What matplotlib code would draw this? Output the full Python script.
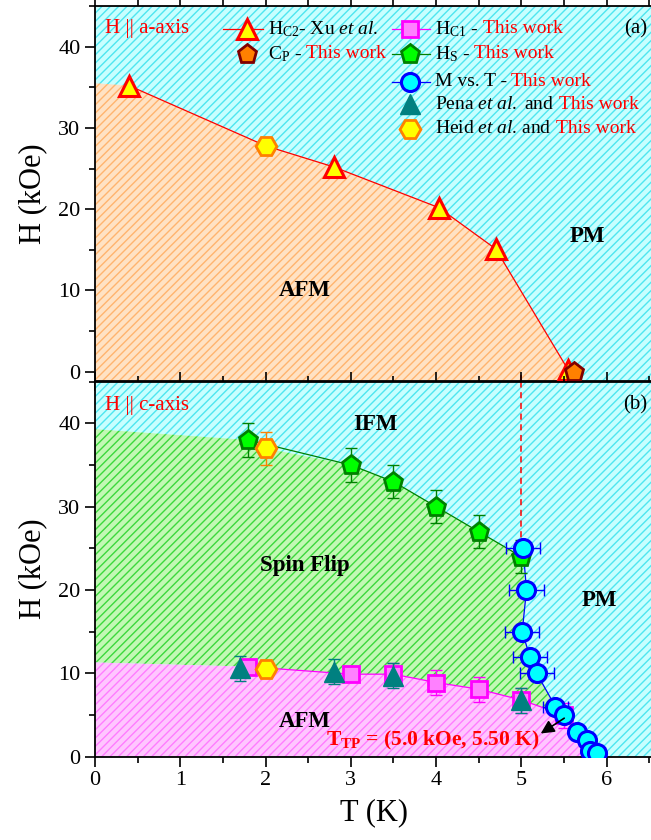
import matplotlib
matplotlib.use('Agg')
import matplotlib.pyplot as plt
from matplotlib.ticker import MultipleLocator

plt.rcParams['font.family'] = ['Liberation Serif', 'DejaVu Serif']
plt.rcParams['mathtext.fontset'] = 'custom'
plt.rcParams['mathtext.rm'] = 'Liberation Serif'
plt.rcParams['mathtext.it'] = 'Liberation Serif:italic'
plt.rcParams['mathtext.bf'] = 'Liberation Serif:bold'
plt.rcParams['hatch.linewidth'] = 1.0

# ---- panel (a) data, H || a-axis ----
hc2_T = [0.4, 2.8, 4.03, 4.7, 5.55]
hc2_H = [35.2, 25.2, 20.2, 15.1, 0.2]
heid_a_T = [2.0]
heid_a_H = [27.8]
cp_T = [5.62]
cp_H = [0.0]

# ---- panel (b) data, H || c-axis ----
hs_T = [1.8, 3.0, 3.5, 4.0, 4.5, 5.0]
hs_H = [38.0, 35.0, 33.0, 30.0, 27.0, 24.0]
hs_err = [2, 2, 2, 2, 2, 2]
heid_c_T = [2.0, 2.0]
heid_c_H = [37.0, 10.5]
heid_c_err = [2, 0]
hc1_T = [1.8, 3.0, 3.5, 4.0, 4.5, 5.0, 5.5]
hc1_H = [10.8, 9.9, 9.9, 8.9, 8.1, 6.8, 5.0]
hc1_err = [0, 0, 1.3, 1.5, 1.5, 1.5, 1.5]
pena_T = [1.7, 2.8, 3.5, 5.0]
pena_H = [10.6, 10.2, 9.7, 6.8]
pena_err = [1.5, 1.5, 1.5, 1.5]
mt_T = [5.02, 5.06, 5.01, 5.1, 5.18, 5.4, 5.5, 5.65, 5.77, 5.8, 5.89]
mt_H = [25, 20, 15, 12, 10, 6, 5, 3, 2, 0.7, 0.5]
mt_err = [0.2, 0.2, 0.2, 0.2, 0.2, 0.15, 0, 0, 0, 0, 0]

# phase boundaries at T = 0
afm_a_left = 35.5
afm_c_left = 11.3
sf_left = 39.3

fig = plt.figure(figsize=(6.51, 8.40), dpi=100)
ax1 = fig.add_axes([0.1459, 0.5464, 0.858, 0.4464])
ax2 = fig.add_axes([0.1459, 0.0992, 0.858, 0.4464])

xmax = 6.55
ax1.set_xlim(0, xmax)
ax1.set_ylim(-1.15, 45)
ax2.set_xlim(0, xmax)
ax2.set_ylim(0, 45)

cyan_bg, cyan_ln = '#c8ffff', '#4ee6f0'
orange_bg, orange_ln = '#ffe2c4', '#ffb46e'
green_bg, green_ln = '#c2f8b4', '#3cd83c'
pink_bg, pink_ln = '#ffc6ff', '#ff7cff'
hatch = '////'

for ax in (ax1, ax2):
    lo, hi = ax.get_ylim()
    ax.fill([0, xmax, xmax, 0], [lo, lo, hi, hi], facecolor=cyan_bg,
            edgecolor=cyan_ln, hatch=hatch, lw=0, zorder=0)

# panel (a) AFM region
slope = (hc2_H[-1] - hc2_H[-2]) / (hc2_T[-1] - hc2_T[-2])
t_end = hc2_T[-1] + (-1.15 - hc2_H[-1]) / slope
bx = [0, hc2_T[0], heid_a_T[0]] + hc2_T[1:] + [t_end, 0]
by = [afm_a_left, hc2_H[0], heid_a_H[0]] + hc2_H[1:] + [-1.15, -1.15]
ax1.fill(bx, by, facecolor=orange_bg, edgecolor=orange_ln, hatch=hatch, lw=0, zorder=1)

# panel (b) spin-flip region
top_T = [0] + hs_T[:1] + [heid_c_T[0]] + hs_T[1:]
top_H = [sf_left] + hs_H[:1] + [heid_c_H[0]] + hs_H[1:]
right_T = mt_T[1:7]
right_H = mt_H[1:7]
low_T = hc1_T[:-1][::-1] + [0]
low_H = hc1_H[:-1][::-1] + [afm_c_left]
ax2.fill(top_T + right_T + low_T, top_H + right_H + low_H, facecolor=green_bg,
         edgecolor=green_ln, hatch=hatch, lw=0, zorder=1)

# panel (b) AFM region
pk_T = [0] + hc1_T + mt_T[7:] + [mt_T[-1] + 0.03, 0]
pk_H = [afm_c_left] + hc1_H + mt_H[7:] + [0, 0]
ax2.fill(pk_T, pk_H, facecolor=pink_bg, edgecolor=pink_ln, hatch=hatch, lw=0, zorder=1)

tri = dict(marker='^', ms=14, mfc='yellow', mec='red', mew=2.2)
cpm = dict(marker='p', ms=14, mfc='#ff8000', mec='#800000', mew=2)
hex_ = dict(marker='H', ms=15, mfc='yellow', mec='#ff8000', mew=2)
pen = dict(marker='p', ms=14, mfc='#00ff00', mec='#008000', mew=2)
sq = dict(marker='s', ms=12, mfc='#ff80ff', mec='#ff00ff', mew=2)
pena = dict(marker='^', ms=14, mfc='#008080', mec='#008080', mew=1)
circ = dict(marker='o', ms=13, mfc='#00ffff', mec='#0000ff', mew=2.2)

# ---- panel (a) marks ----
ax1.plot(hc2_T[:1] + heid_a_T + hc2_T[1:], hc2_H[:1] + heid_a_H + hc2_H[1:], color='red', lw=0.9, zorder=3)
ax1.plot(hc2_T, hc2_H, ls='none', zorder=5, **tri)
ax1.plot(heid_a_T, heid_a_H, ls='none', zorder=5, **hex_)
ax1.plot(cp_T, cp_H, ls='none', zorder=6, **cpm)
ax1.plot([5.0, 5.0], [-1.15, -0.2], color='#ff0000', ls=(0, (4, 3)), lw=1.1, zorder=2)

# ---- panel (b) marks ----
ax2.plot([5.0, 5.0], [25, 45], color='#ff0000', ls=(0, (4, 3)), lw=1.1, zorder=2)
ax2.plot(hs_T, hs_H, color='#008000', lw=0.9, zorder=3)
ax2.plot(hc1_T, hc1_H, color='#ff00ff', lw=0.9, zorder=3)
ax2.plot(mt_T, mt_H, color='#0000ff', lw=0.9, zorder=3)

ax2.errorbar(hs_T, hs_H, yerr=hs_err, fmt='none', ecolor='#008000', elinewidth=1, capsize=4, zorder=4)
ax2.plot(hs_T, hs_H, ls='none', zorder=5, **pen)

ax2.errorbar(hc1_T, hc1_H, yerr=hc1_err, fmt='none', ecolor='#ff00ff', elinewidth=1, capsize=4, zorder=4)
ax2.plot(hc1_T, hc1_H, ls='none', zorder=5, **sq)

ax2.errorbar(pena_T, pena_H, yerr=pena_err, fmt='none', ecolor='#008080', elinewidth=1, capsize=4, zorder=6)
ax2.plot(pena_T, pena_H, ls='none', zorder=6, **pena)

ax2.errorbar(heid_c_T, heid_c_H, yerr=heid_c_err, fmt='none', ecolor='#ff8000', elinewidth=1, capsize=4, zorder=6)
ax2.plot(heid_c_T, heid_c_H, ls='none', zorder=6, **hex_)

ax2.errorbar(mt_T, mt_H, xerr=mt_err, fmt='none', ecolor='#0000ff', elinewidth=1, capsize=4, zorder=7)
ax2.plot(mt_T, mt_H, ls='none', zorder=8, **circ)

# ---- text ----
ax1.text(0.12, 42.2, 'H || a-axis', color='red', fontsize=15, va='center')
ax1.text(6.34, 42.2, '(a)', fontsize=15, ha='center', va='center')
ax1.text(2.46, 10.0, 'AFM', fontsize=16.5, fontweight='bold', ha='center', va='center')
ax1.text(5.78, 16.6, 'PM', fontsize=16.5, fontweight='bold', ha='center', va='center')

ax2.text(0.12, 42.2, 'H || c-axis', color='red', fontsize=15, va='center')
ax2.text(6.34, 42.2, '(b)', fontsize=15, ha='center', va='center')
ax2.text(3.29, 39.9, 'IFM', fontsize=16.5, fontweight='bold', ha='center', va='center')
ax2.text(2.46, 23.0, 'Spin Flip', fontsize=16.5, fontweight='bold', ha='center', va='center')
ax2.text(5.92, 18.8, 'PM', fontsize=16.5, fontweight='bold', ha='center', va='center')
ax2.text(2.46, 4.2, 'AFM', fontsize=16.5, fontweight='bold', ha='center', va='center')
ax2.text(2.71, 1.9, r'$\mathbf{T}_{\mathbf{TP}}$ = (5.0 kOe, 5.50 K)', color='red',
         fontsize=15.5, fontweight='bold', va='center', zorder=9)
ax2.annotate('', xy=(5.2, 2.6), xytext=(5.53, 4.8),
             arrowprops=dict(arrowstyle='-|>', color='black', lw=1.2, mutation_scale=20), zorder=9)

# ---- legend drawn by hand ----
rend = fig.canvas.get_renderer()
def entry(ax, x, y, black, red=None):
    t = ax.text(x, y, black, fontsize=14, va='center')
    if red:
        bb = t.get_window_extent(renderer=rend)
        xd = ax.transData.inverted().transform((bb.x1 + 4, bb.y0))[0]
        ax.text(xd, y, red, fontsize=14, va='center', color='red')

c1_line, c1_mark, c1_text = [1.50, 1.97], 1.78, 2.03
c2_line, c2_mark, c2_text = [3.48, 3.93], 3.69, 3.99
rows = [42.2, 39.1, 35.7, 32.9, 29.9]

ax1.plot(c1_line, [rows[0]] * 2, color='red', lw=0.9, zorder=5)
ax1.plot([c1_mark], [rows[0]], zorder=6, **tri)
entry(ax1, c1_text, rows[0], r'H$_{\mathrm{C2}}$- Xu $\mathit{et\ al.}$')
ax1.plot([c1_mark], [rows[1]], zorder=6, **cpm)
entry(ax1, c1_text, rows[1], r'C$_{\mathrm{P}}$ -', 'This work')

ax1.plot(c2_line, [rows[0]] * 2, color='#ff00ff', lw=0.9, zorder=5)
ax1.plot([c2_mark], [rows[0]], zorder=6, **sq)
entry(ax1, c2_text, rows[0], r'H$_{\mathrm{C1}}$ -', 'This work')
ax1.plot(c2_line, [rows[1]] * 2, color='#008000', lw=0.9, zorder=5)
ax1.plot([c2_mark], [rows[1]], zorder=6, **pen)
entry(ax1, c2_text, rows[1], r'H$_{\mathrm{S}}$ -', 'This work')
ax1.plot(c2_line, [rows[2]] * 2, color='#0000ff', lw=0.9, zorder=5)
ax1.plot([c2_mark], [rows[2]], zorder=6, **circ)
entry(ax1, c2_text, rows[2], 'M vs. T -', 'This work')
ax1.plot([c2_mark], [rows[3]], zorder=6, **pena)
entry(ax1, c2_text, rows[3], r'Pena $\mathit{et\ al.}$ and', 'This work')
ax1.plot([c2_mark], [rows[4]], zorder=6, **hex_)
entry(ax1, c2_text, rows[4], r'Heid $\mathit{et\ al}$. and', 'This work')

# ---- axes styling ----
for ax in (ax1, ax2):
    ax.xaxis.set_major_locator(MultipleLocator(1))
    ax.xaxis.set_minor_locator(MultipleLocator(0.5))
    ax.yaxis.set_major_locator(MultipleLocator(10))
    ax.yaxis.set_minor_locator(MultipleLocator(5))
    ax.tick_params(which='both', direction='out', top=True, right=True, labelsize=16, width=1.2)
    ax.tick_params(which='major', length=7)
    ax.tick_params(which='minor', length=4)
    for s in ax.spines.values():
        s.set_linewidth(1.3)
    ax.set_ylabel('H (kOe)', fontsize=22, labelpad=8)

ax1.tick_params(labelbottom=False)
ax2.set_xlabel('T (K)', fontsize=22, labelpad=6)

fig.savefig('out.png', dpi=100)
